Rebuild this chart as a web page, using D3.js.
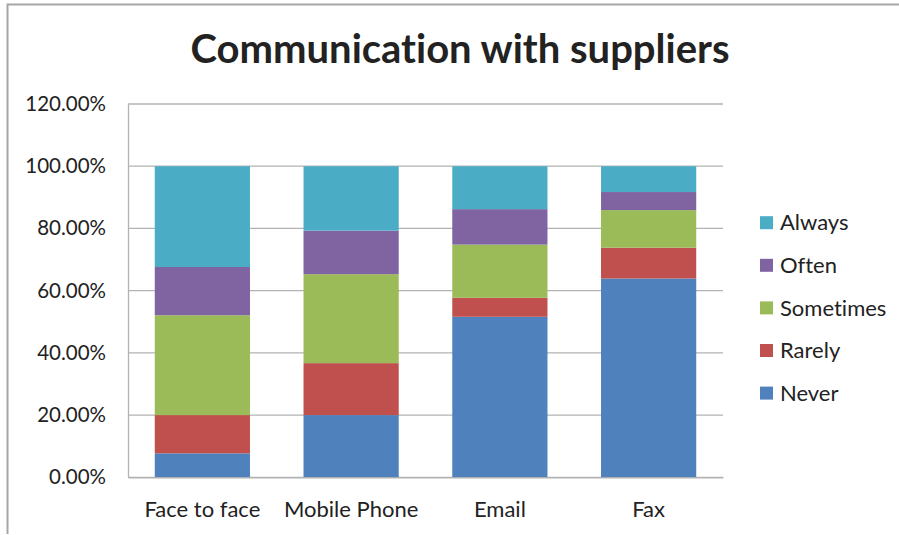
<!DOCTYPE html>
<html>
<head>
<meta charset="utf-8">
<script src="https://cdn.jsdelivr.net/npm/d3@7"></script>
<style>
  html, body { margin: 0; padding: 0; background: #fff; }
  svg { display: block; }
  text { font-family: Lato, "Open Sans", sans-serif; fill: #222; font-variant-ligatures: none; }
</style>
</head>
<body>
<svg id="chart" width="899" height="535"></svg>
<script>
// Survey: how often firms use each channel to talk to suppliers (share of answers)
const channels = ["Face to face", "Mobile Phone", "Email", "Fax"];
const levels = ["Never", "Rarely", "Sometimes", "Often", "Always"];
const never     = [0.077, 0.200, 0.516, 0.639];
const rarely    = [0.123, 0.167, 0.061, 0.099];
const sometimes = [0.321, 0.286, 0.171, 0.121];
const often     = [0.155, 0.140, 0.114, 0.058];
const always    = [0.324, 0.207, 0.138, 0.083];
const yTicks = [0, 0.2, 0.4, 0.6, 0.8, 1.0, 1.2];
const colors = ["#4f81bd", "#c0504d", "#9bbb59", "#8064a2", "#4bacc6"];

const rows = channels.map((c, i) => ({
  channel: c,
  Never: never[i], Rarely: rarely[i], Sometimes: sometimes[i],
  Often: often[i], Always: always[i]
}));

const svg = d3.select("#chart");
const plot = { left: 128, right: 723, top: 104, bottom: 477.3 };
const font = "Lato, 'Open Sans', sans-serif";

// frame around the chart
svg.append("path")
  .attr("d", "M7.5,534 V4.5 H899")
  .attr("fill", "none").attr("stroke", "#a6a6a6").attr("stroke-width", 2);

const x = d3.scaleBand().domain(channels)
  .range([plot.left, plot.right]).paddingInner(0.36).paddingOuter(0.18);
const y = d3.scaleLinear().domain([0, 1.2]).range([plot.bottom, plot.top]);
const color = d3.scaleOrdinal().domain(levels).range(colors);

// gridlines
svg.append("g").selectAll("line").data(yTicks).join("line")
  .attr("x1", plot.left).attr("x2", plot.right)
  .attr("y1", d => y(d)).attr("y2", d => y(d))
  .attr("stroke", "#b3b3b3").attr("stroke-width", 1.3);

// y axis
const yAxis = svg.append("g").attr("transform", `translate(${plot.left},0)`)
  .call(d3.axisLeft(y).tickValues(yTicks).tickFormat(d3.format(".2%")).tickSize(0).tickPadding(22));
yAxis.select(".domain").attr("stroke", "#b3b3b3").attr("stroke-width", 1.3);
yAxis.selectAll("text").style("font-size", "20.5px").attr("fill", "#222")
  .style("font-family", font);

// stacked bars
const stack = d3.stack().keys(levels)(rows);
svg.append("g").selectAll("g").data(stack).join("g")
  .attr("fill", d => color(d.key))
  .selectAll("rect").data(d => d).join("rect")
  .attr("x", d => x(d.data.channel))
  .attr("width", x.bandwidth())
  .attr("y", d => y(d[1]))
  .attr("height", d => y(d[0]) - y(d[1]));

// x axis
const xAxis = svg.append("g").attr("transform", `translate(0,${plot.bottom})`)
  .call(d3.axisBottom(x).tickSize(0).tickPadding(24));
xAxis.select(".domain").attr("stroke", "#b3b3b3").attr("stroke-width", 1.3);
xAxis.selectAll("text").style("font-size", "22px").attr("fill", "#222")
  .style("font-family", font);

// title
svg.append("text")
  .attr("x", 460).attr("y", 63)
  .attr("text-anchor", "middle")
  .style("font-size", "40px").style("font-weight", "bold").attr("fill", "#000")
  .text("Communication with suppliers");

// legend (top entry is the top segment)
const legendItems = levels.slice().reverse();
const lg = svg.append("g").selectAll("g").data(legendItems).join("g")
  .attr("transform", (d, i) => `translate(760,${222.7 + i * 42.6})`);
lg.append("rect").attr("x", 0).attr("y", -6.5).attr("width", 13).attr("height", 13)
  .attr("fill", d => color(d));
lg.append("text").attr("x", 20).attr("y", 0).attr("dy", "0.35em")
  .style("font-size", "22px").text(d => d);
</script>
</body>
</html>
